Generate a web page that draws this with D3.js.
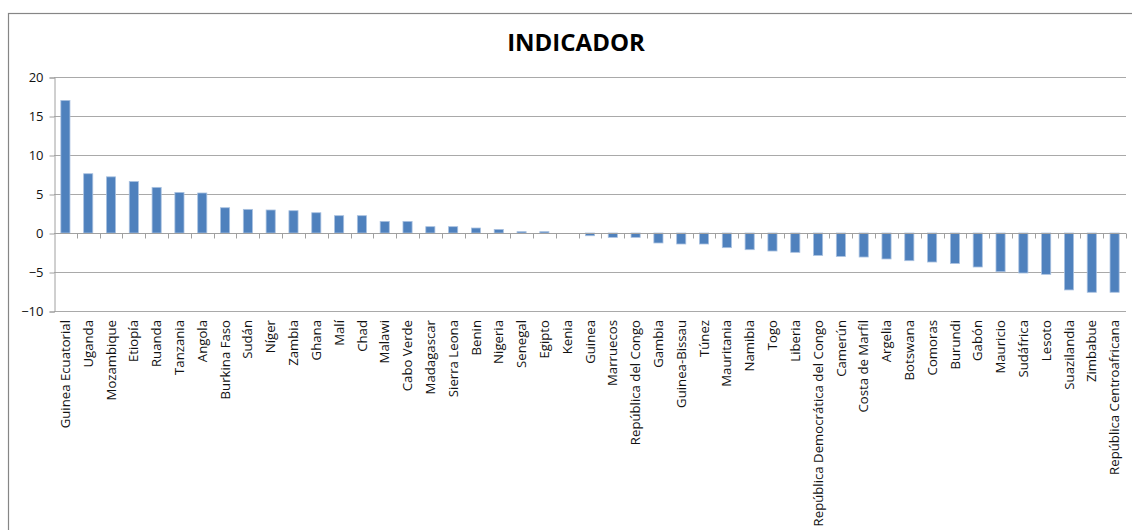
<!DOCTYPE html>
<html>
<head>
<meta charset="utf-8">
<script src="https://cdn.jsdelivr.net/npm/d3@7"></script>
<style>
  body { margin: 0; background: #fff; }
  svg { display: block; font-family: "Open Sans", sans-serif; }
</style>
</head>
<body>
<div id="chart"></div>
<script>
var paises = ["Guinea Ecuatorial", "Uganda", "Mozambique", "Etiopía", "Ruanda", "Tanzania", "Angola",
    "Burkina Faso", "Sudán", "Níger", "Zambia", "Ghana", "Malí", "Chad", "Malawi", "Cabo Verde",
    "Madagascar", "Sierra Leona", "Benin", "Nigeria", "Senegal", "Egipto", "Kenia", "Guinea",
    "Marruecos", "República del Congo", "Gambia", "Guinea-Bissau", "Túnez", "Mauritania", "Namibia",
    "Togo", "Liberia", "República Democrática del Congo", "Camerún", "Costa de Marfil", "Argelia",
    "Botswana", "Comoras", "Burundi", "Gabón", "Mauricio", "Sudáfrica", "Lesoto", "Suazilandia",
    "Zimbabue", "República Centroafricana"];

var valores = [17.0, 7.6, 7.2, 6.6, 5.85, 5.2, 5.13,
    3.24, 3.03, 2.95, 2.86, 2.6, 2.22, 2.22, 1.49, 1.49,
    0.81, 0.81, 0.64, 0.46, 0.17, 0.17, 0, -0.35,
    -0.56, -0.56, -1.28, -1.41, -1.41, -1.88, -2.14,
    -2.31, -2.48, -2.87, -3.0, -3.08, -3.33,
    -3.55, -3.72, -3.9, -4.36, -4.96, -5.13, -5.3, -7.3,
    -7.6, -7.6];

var yTicks = [-10, -5, 0, 5, 10, 15, 20];
var titulo = "INDICADOR";

var width = 1132, height = 530;
var margin = { left: 54, right: 1126, top: 77, bottom: 311 };

var svg = d3.select("#chart").append("svg")
    .attr("width", width)
    .attr("height", height);

// marco del grafico
svg.append("rect")
    .attr("x", 8.5).attr("y", 13.5)
    .attr("width", width + 20).attr("height", height + 20)
    .attr("fill", "#fff")
    .attr("stroke", "#868686")
    .attr("stroke-width", 1.2);

var x = d3.scaleBand()
    .domain(paises)
    .range([margin.left, margin.right])
    .paddingInner(0.6)
    .paddingOuter(0.3);

var y = d3.scaleLinear()
    .domain([-10, 20])
    .range([margin.bottom, margin.top]);

// gridlines
svg.append("g")
    .selectAll("line")
    .data(yTicks)
    .enter().append("line")
    .attr("x1", margin.left)
    .attr("x2", margin.right)
    .attr("y1", function(d) { return Math.round(y(d)) + 0.5; })
    .attr("y2", function(d) { return Math.round(y(d)) + 0.5; })
    .attr("stroke", "#a9a9a9")
    .attr("stroke-width", 1);

// eje y
var yAxis = d3.axisLeft(y)
    .tickValues(yTicks)
    .tickSize(5)
    .tickPadding(6);

var gy = svg.append("g")
    .attr("transform", "translate(" + (margin.left + 0.5) + ",0.5)")
    .call(yAxis);
gy.select(".domain").attr("stroke", "#a0a0a0");
gy.selectAll(".tick line").attr("stroke", "#a0a0a0");
gy.selectAll("text")
    .attr("font-family", "Open Sans")
    .attr("font-size", 13)
    .attr("fill", "#111");

// barras
svg.append("g")
    .selectAll("rect")
    .data(valores)
    .enter().append("rect")
    .attr("x", function(d, i) { return x(paises[i]); })
    .attr("width", x.bandwidth())
    .attr("y", function(d) { return y(Math.max(0, d)); })
    .attr("height", function(d) { return Math.abs(y(d) - y(0)); })
    .attr("fill", "#4f81bd")
    .attr("stroke", "#a9c1e0")
    .attr("stroke-width", 0.8);

// eje x en el cero
var bordes = d3.range(paises.length + 1).map(function(i) {
    return margin.left + i * (margin.right - margin.left) / paises.length;
});
var y0 = Math.round(y(0)) + 0.5;
svg.append("line")
    .attr("x1", margin.left).attr("x2", margin.right)
    .attr("y1", y0).attr("y2", y0)
    .attr("stroke", "#a0a0a0");
svg.append("g")
    .selectAll("line")
    .data(bordes.slice(1))
    .enter().append("line")
    .attr("x1", function(d) { return Math.round(d) + 0.5; })
    .attr("x2", function(d) { return Math.round(d) + 0.5; })
    .attr("y1", y0).attr("y2", y0 + 5)
    .attr("stroke", "#a0a0a0");

// etiquetas de categorias
svg.append("g")
    .selectAll("text")
    .data(paises)
    .enter().append("text")
    .attr("transform", function(d) {
        return "translate(" + (x(d) + x.bandwidth() / 2) + ",320) rotate(-90)";
    })
    .attr("dy", "0.35em")
    .attr("text-anchor", "end")
    .attr("font-family", "Open Sans")
    .attr("font-size", 13.2)
    .attr("fill", "#111")
    .text(function(d) { return d; });

// titulo
svg.append("text")
    .attr("x", 576)
    .attr("y", 51)
    .attr("text-anchor", "middle")
    .attr("font-family", "Open Sans")
    .attr("font-weight", "bold")
    .attr("font-size", 24)
    .attr("fill", "#000")
    .text(titulo);
</script>
</body>
</html>
